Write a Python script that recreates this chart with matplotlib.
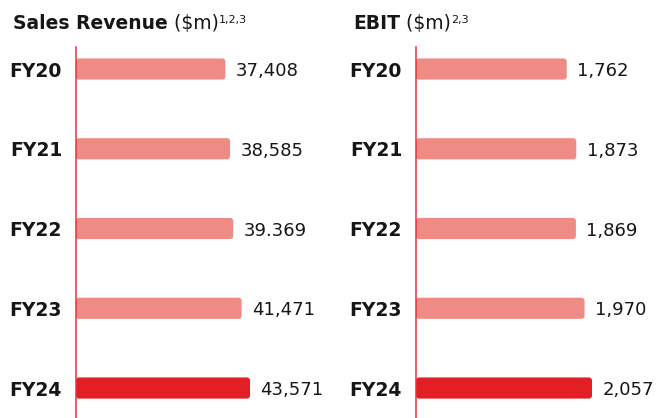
import matplotlib
matplotlib.use("Agg")
import matplotlib.pyplot as plt
from matplotlib.patches import FancyBboxPatch

plt.rcParams['font.family'] = ['DejaVu Sans']

# ----------------------------------------------------------------

years = ["FY20", "FY21", "FY22", "FY23", "FY24"]
sales = [37408, 38585, 39369, 41471, 43571]
sales_labels = ["37,408", "38,585", "39.369", "41,471", "43,571"]
ebit = [1762, 1873, 1869, 1970, 2057]
ebit_labels = ["1,762", "1,873", "1,869", "1,970", "2,057"]

light_red = "#EE8B84"
dark_red = "#E31E25"
text_col = "#161616"

fig_w, fig_h = 657, 418
dpi = 100

# ----------------------------------------------------------------

def round_bars(ax, bars, xmax, width_px, radius_px=3):
        # swap plain bars for ones with softly rounded corners
        ymin, ymax = ax.get_ylim()
        ax_h_px = ax.get_position().height * fig_h
        x_per_px = xmax / width_px
        y_per_px = abs(ymin - ymax) / ax_h_px
        for b in bars:
                x0, y0 = b.get_x(), b.get_y()
                w, h = b.get_width(), b.get_height()
                p = FancyBboxPatch((x0, y0), w, h,
                                   boxstyle="round,pad=0,rounding_size=%f" % (radius_px * x_per_px),
                                   mutation_aspect=y_per_px / x_per_px,
                                   facecolor=b.get_facecolor(), edgecolor="none", zorder=2)
                ax.add_patch(p)
                b.remove()


def panel(fig, left_px, width_px, xmax, values, labels, title, unit, sup):
        ax = fig.add_axes([left_px / fig_w, 0, width_px / fig_w, 371 / fig_h])
        ax.set_xlim(0, xmax)
        ax.set_ylim(4.376, -0.276)
        pos = list(range(len(years)))
        colors = [light_red] * (len(values) - 1) + [dark_red]
        bars = ax.barh(pos, values, height=0.265, color=colors)
        round_bars(ax, bars, xmax, width_px)

        for y, v, lab in zip(pos, values, labels):
                ax.annotate(lab, xy=(v, y), xytext=(7.5, 0), textcoords="offset points",
                            va="center_baseline", ha="left", fontsize=13, color=text_col)

        ax.set_yticks(pos)
        ax.set_yticklabels(years, fontsize=13.5, fontweight="bold", color=text_col)
        ax.tick_params(axis="y", length=0, pad=10)
        ax.set_xticks([])
        for s in ["top", "right", "bottom"]:
                ax.spines[s].set_visible(False)
        ax.spines["left"].set_color("#E8323A")
        ax.spines["left"].set_linewidth(1.1)

        # heading: bold name, regular unit, small superscript notes
        t1 = fig.text((left_px - 63) / fig_w, 1 - 29 / fig_h, title, fontsize=13.5,
                      fontweight="bold", color=text_col, va="baseline", ha="left")
        t2 = ax.annotate(" " + unit, xy=(1, 0), xycoords=t1, va="bottom", ha="left",
                         fontsize=13.5, color=text_col, annotation_clip=False)
        ax.annotate(sup, xy=(1, 1), xycoords=t2, xytext=(0.5, -1), textcoords="offset points",
                    va="top", ha="left", fontsize=8, color=text_col, annotation_clip=False)
        return ax


fig = plt.figure(figsize=(fig_w / dpi, fig_h / dpi), dpi=dpi)

panel(fig, 76, 250, 43571 * 250 / 174, sales, sales_labels, "Sales Revenue", "($m)", "1,2,3")
panel(fig, 416, 241, 2057 * 241 / 176, ebit, ebit_labels, "EBIT", "($m)", "2,3")

fig.savefig("out.png", dpi=dpi)
